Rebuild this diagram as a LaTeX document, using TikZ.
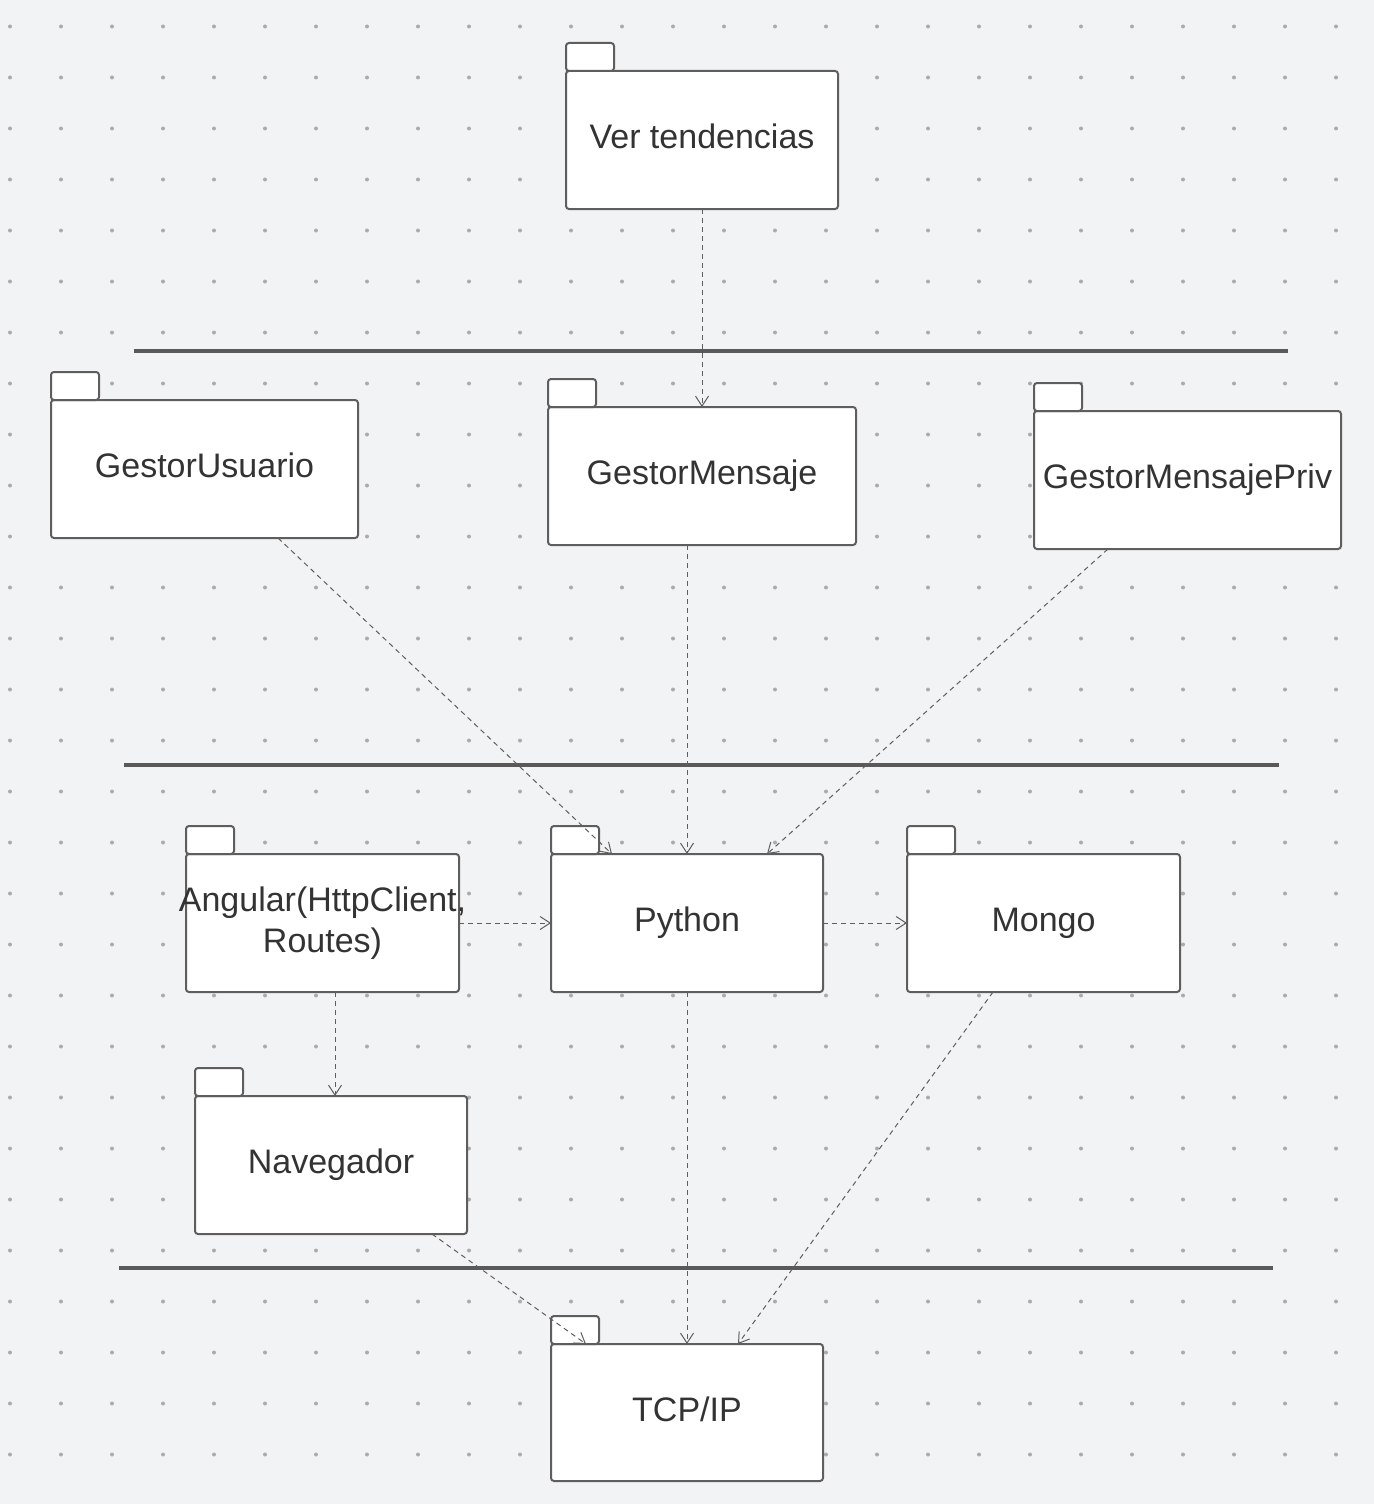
\documentclass[tikz,border=0pt]{standalone}
\usepackage{fontspec}
\setmainfont{Liberation Sans}
\usetikzlibrary{arrows.meta}

\definecolor{fondo}{HTML}{F2F3F5}
\definecolor{punto}{HTML}{ABABAB}
\definecolor{borde}{HTML}{5E5E5E}
\definecolor{texto}{HTML}{333333}
\definecolor{capa}{HTML}{595959}

\tikzset{
  pkg/.style={draw=borde, fill=white, line width=1pt, rounded corners=1.5pt,
    inner sep=0pt, outer sep=0pt, text=texto, align=center, text depth=0.34em,
    font=\fontsize{17}{20.5}\selectfont},
  pkgtab/.style={draw=borde, fill=white, line width=1pt, rounded corners=1.5pt},
  dep/.style={draw=borde, line width=0.5pt, dash pattern=on 2.5pt off 2pt,
    -{Straight Barb[length=5pt,width=6.5pt]}},
  layer/.style={draw=capa, line width=2pt}
}

\begin{document}
\begin{tikzpicture}[x=0.5pt,y=-0.5pt]
\fill[fondo] (0,0) rectangle (1374,1504);
\useasboundingbox (0,0) rectangle (1374,1504);

% la grille de points
\foreach \i in {0,...,26}
  \foreach \j in {0,...,28}
    \fill[punto] (10+51*\i, 26.5+51*\j) circle (1pt);

% les couches
\draw[layer] (134,351) -- (1288,351);
\draw[layer] (124,765) -- (1279,765);
\draw[layer] (119,1268) -- (1273,1268);

% les paquets
\node[pkg, minimum width=136pt, minimum height=69pt] (vt) at (702,140) {Ver tendencias};

\node[pkg, minimum width=153.5pt, minimum height=69pt] (gu) at (204.5,469) {GestorUsuario};
\node[pkg, minimum width=154pt, minimum height=69pt] (gm) at (702,476) {GestorMensaje};
\node[pkg, minimum width=153.5pt, minimum height=69pt] (gp) at (1187.5,480) {GestorMensajePriv};

\node[pkg, minimum width=136.5pt, minimum height=69pt] (ang) at (322.5,923) {\makebox[0pt]{Angular(HttpClient,}\\Routes)};
\node[pkg, minimum width=136pt, minimum height=69pt] (py) at (687,923) {Python};
\node[pkg, minimum width=136.5pt, minimum height=69pt] (mg) at (1043.5,923) {Mongo};

\node[pkg, minimum width=136pt, minimum height=69pt] (nav) at (331,1165) {Navegador};

\node[pkg, minimum width=136pt, minimum height=68.5pt] (tcp) at (687,1412.5) {TCP/IP};

\foreach \n in {vt,gu,gm,gp,ang,py,mg,nav,tcp}
  \draw[pkgtab] (\n.north west) rectangle ++(48,-28);

% les dependances
\draw[dep] (vt.south) -- (gm.north);

\draw[dep] ([xshift=36.75pt]gu.south) -- ([xshift=-37.5pt]py.north);
\draw[dep] ([xshift=-7.5pt]gm.south) -- (py.north);
\draw[dep] ([xshift=-39.75pt]gp.south) -- ([xshift=40pt]py.north);

\draw[dep] (ang.east) -- (py.west);
\draw[dep] (py.east) -- (mg.west);
\draw[dep] ([xshift=6.25pt]ang.south) -- ([xshift=2pt]nav.north);

\draw[dep] ([xshift=50.5pt]nav.south) -- ([xshift=-50.5pt]tcp.north);
\draw[dep] (py.south) -- (tcp.north);
\draw[dep] ([xshift=-25.25pt]mg.south) -- ([xshift=25.5pt]tcp.north);

\end{tikzpicture}
\end{document}
